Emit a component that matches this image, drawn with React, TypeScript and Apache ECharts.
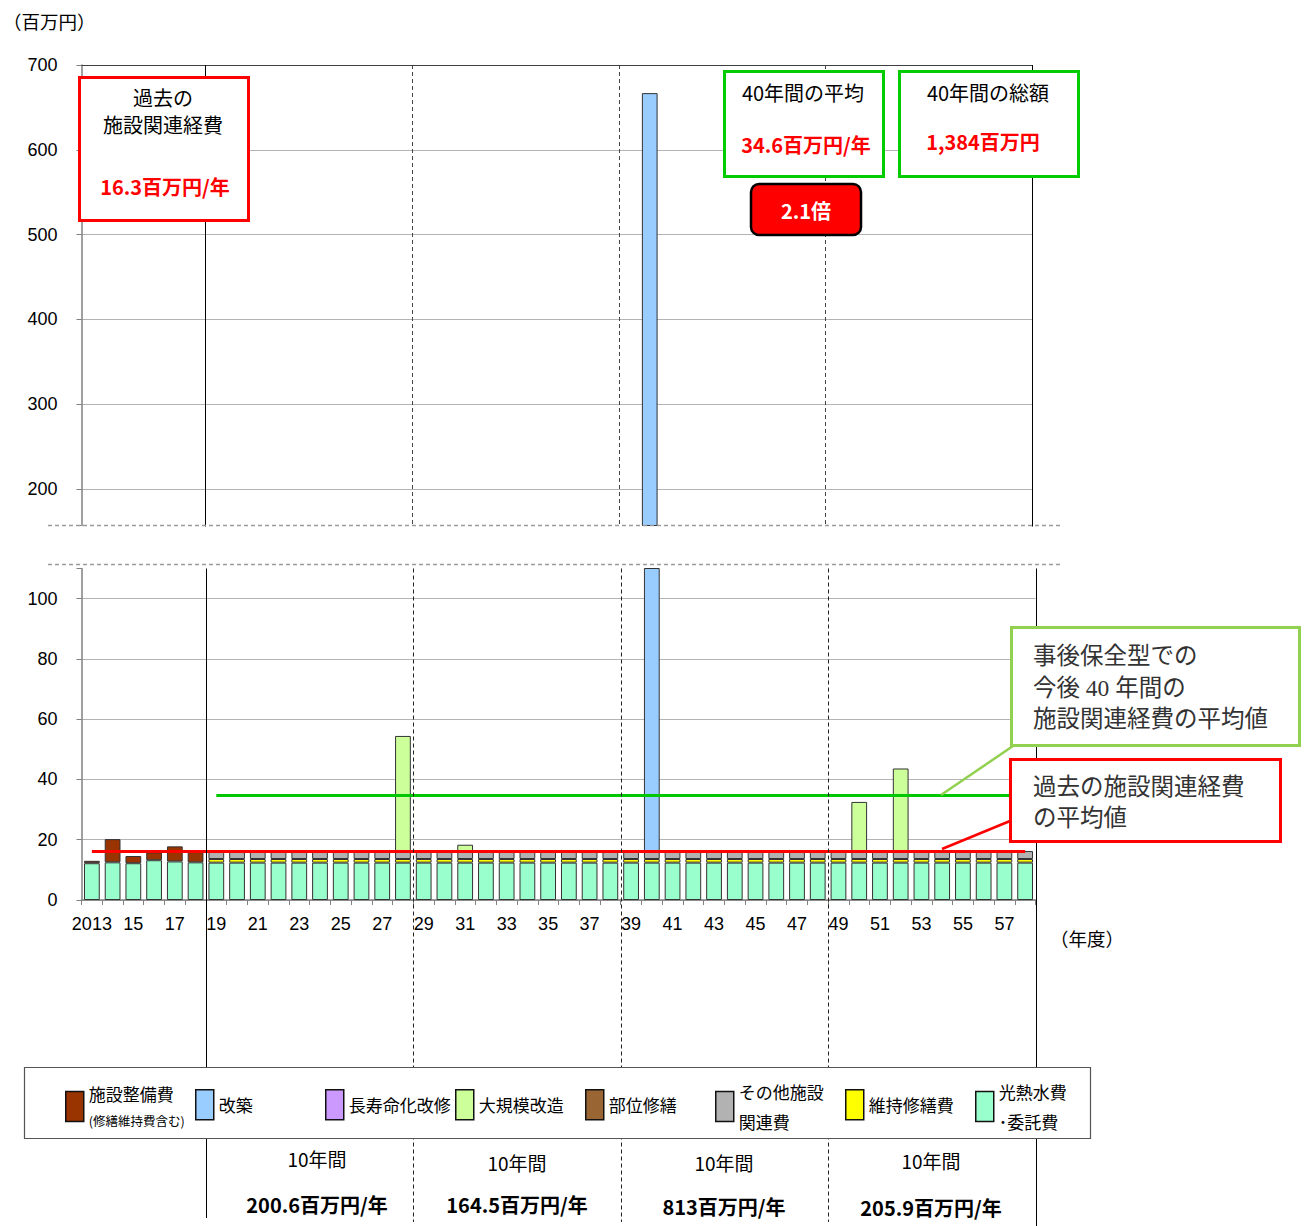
import React, { useEffect, useRef } from "react";
import * as echarts from "echarts";

// ---------- data ----------
const YEARS = [
  "2013", "2014", "2015", "2016", "2017", "2018",
  "2019", "2020", "2021", "2022", "2023", "2024", "2025", "2026", "2027", "2028",
  "2029", "2030", "2031", "2032", "2033", "2034", "2035", "2036", "2037", "2038",
  "2039", "2040", "2041", "2042", "2043", "2044", "2045", "2046", "2047", "2048",
  "2049", "2050", "2051", "2052", "2053", "2054", "2055", "2056", "2057", "2058",
];

// 光熱水費・委託費
const UTILITIES = [
  12.2, 12.5, 12.2, 13.2, 12.8, 12.5,
  12.4, 12.4, 12.4, 12.4, 12.4, 12.4, 12.4, 12.4, 12.4, 12.4,
  12.4, 12.4, 12.4, 12.4, 12.4, 12.4, 12.4, 12.4, 12.4, 12.4,
  12.4, 12.4, 12.4, 12.4, 12.4, 12.4, 12.4, 12.4, 12.4, 12.4,
  12.4, 12.4, 12.4, 12.4, 12.4, 12.4, 12.4, 12.4, 12.4, 12.4,
];
// 維持修繕費
const MAINTENANCE = [
  0, 0, 0, 0, 0, 0,
  1.2, 1.2, 1.2, 1.2, 1.2, 1.2, 1.2, 1.2, 1.2, 1.2,
  1.2, 1.2, 1.2, 1.2, 1.2, 1.2, 1.2, 1.2, 1.2, 1.2,
  1.2, 1.2, 1.2, 1.2, 1.2, 1.2, 1.2, 1.2, 1.2, 1.2,
  1.2, 1.2, 1.2, 1.2, 1.2, 1.2, 1.2, 1.2, 1.2, 1.2,
];
// その他施設関連費
const OTHER = [
  0, 0, 0, 0, 0, 0,
  2.64, 2.64, 2.64, 2.64, 2.64, 2.64, 2.64, 2.64, 2.64, 2.64,
  2.64, 2.64, 2.64, 2.64, 2.64, 2.64, 2.64, 2.64, 2.64, 2.64,
  2.64, 2.64, 2.64, 2.64, 2.64, 2.64, 2.64, 2.64, 2.64, 2.64,
  2.64, 2.64, 2.64, 2.64, 2.64, 2.64, 2.64, 2.64, 2.64, 2.64,
];
// 施設整備費（修繕維持費含む）
const FACILITY = [
  0.8, 7.7, 2.4, 2.6, 5.0, 3.4,
  0, 0, 0, 0, 0, 0, 0, 0, 0, 0,
  0, 0, 0, 0, 0, 0, 0, 0, 0, 0,
  0, 0, 0, 0, 0, 0, 0, 0, 0, 0,
  0, 0, 0, 0, 0, 0, 0, 0, 0, 0,
];
// 部位修繕
const PARTIAL = [
  0, 0, 0, 0, 0, 0,
  0, 0, 0, 0, 0, 0, 0, 0, 0, 0,
  0, 0, 0, 0, 0, 0, 0, 0, 0, 0,
  0, 0, 0, 0, 0, 0, 0, 0, 0, 0,
  0, 0, 0, 0, 0, 0, 0, 0, 0, 0,
];
// 大規模改造
const MAJOR = [
  0, 0, 0, 0, 0, 0,
  0, 0, 0, 0, 0, 0, 0, 0, 0, 38.2,
  0, 0, 2.1, 0, 0, 0, 0, 0, 0, 0,
  0, 0, 0, 0, 0, 0, 0, 0, 0, 0,
  0, 16.3, 0, 27.4, 0, 0, 0, 0, 0, 0,
];
// 長寿命化改修
const LIFE_EXT = [
  0, 0, 0, 0, 0, 0,
  0, 0, 0, 0, 0, 0, 0, 0, 0, 0,
  0, 0, 0, 0, 0, 0, 0, 0, 0, 0,
  0, 0, 0, 0, 0, 0, 0, 0, 0, 0,
  0, 0, 0, 0, 0, 0, 0, 0, 0, 0,
];
// 改築
const REBUILD = [
  0, 0, 0, 0, 0, 0,
  0, 0, 0, 0, 0, 0, 0, 0, 0, 0,
  0, 0, 0, 0, 0, 0, 0, 0, 0, 0,
  0, 650.6, 0, 0, 0, 0, 0, 0, 0, 0,
  0, 0, 0, 0, 0, 0, 0, 0, 0, 0,
];

const PAST_AVG = 16.3;
const FUTURE_AVG = 34.6;

const LOWER_TICKS_MAX = 110;
const UPPER_MIN = 157;
const UPPER_MAX = 700;

const DECADE_BOUNDARIES = [6, 16, 26, 36, 46];
const DECADE_TEXTS = ["200.6百万円/年", "164.5百万円/年", "813百万円/年", "205.9百万円/年"];

// stack order bottom -> top
const SERIES_DEFS = [
  { name: "光熱水費・委託費", data: UTILITIES, color: "#99FFCC" },
  { name: "維持修繕費", data: MAINTENANCE, color: "#FFFF00" },
  { name: "その他施設関連費", data: OTHER, color: "#B2B2B2" },
  { name: "施設整備費", data: FACILITY, color: "#993300" },
  { name: "部位修繕", data: PARTIAL, color: "#996633" },
  { name: "大規模改造", data: MAJOR, color: "#CCFF99" },
  { name: "長寿命化改修", data: LIFE_EXT, color: "#CC99FF" },
  { name: "改築", data: REBUILD, color: "#99CCFF" },
];

const LEGEND_ORDER = [
  "施設整備費", "改築", "長寿命化改修", "大規模改造",
  "部位修繕", "その他施設関連費", "維持修繕費", "光熱水費・委託費",
];

const FONT = '"Noto Sans CJK JP", "Noto Sans", sans-serif';
const NUMFONT = '"Liberation Sans", Arial, sans-serif';

function legendFormatter(name: string) {
  if (name === "施設整備費") return "{a|施設整備費}\n{b|(修繕維持費含む)}";
  if (name === "その他施設関連費") return "{c|その他施設}\n{c|関連費}";
  if (name === "光熱水費・委託費") return "{c|光熱水費}\n{c|･委託費}";
  return "{s|" + name + "}";
}
function legendTop(name: string) {
  if (name === "施設整備費") return 1085;
  if (name === "その他施設関連費" || name === "光熱水費・委託費") return 1083;
  return 1089;
}

function buildOption(): any {
  const series: any[] = [];
  [0, 1].forEach((g) => {
    SERIES_DEFS.forEach((d) => {
      series.push({
        type: "bar",
        name: d.name,
        xAxisIndex: g,
        yAxisIndex: g,
        stack: "s" + g,
        barCategoryGap: "24%",
        data: d.data.map((v) => (v === 0 ? null : v)),
        itemStyle: { color: d.color, borderColor: "#333", borderWidth: 1 },
        emphasis: { disabled: true },
        z: 2,
      });
    });
  });
  series.push({
    type: "line",
    name: "avg",
    xAxisIndex: 1,
    yAxisIndex: 1,
    data: [],
    z: 4,
    markLine: {
      symbol: "none",
      silent: true,
      label: { show: false },
      data: [
        [
          { coord: [YEARS[0], PAST_AVG], lineStyle: { color: "#FF0000", width: 3, type: "solid" } },
          { coord: [YEARS[YEARS.length - 1], PAST_AVG] },
        ],
        [
          { coord: [YEARS[6], FUTURE_AVG], lineStyle: { color: "#00C800", width: 3, type: "solid" } },
          { coord: [YEARS[YEARS.length - 1], FUTURE_AVG] },
        ],
      ],
    },
  });

  const axisLabelStyle = { fontFamily: NUMFONT, fontSize: 18, color: "#000" };

  return {
    animation: false,
    backgroundColor: "#fff",
    grid: [
      { left: 81.5, top: 65, width: 950.5, height: 460.5 },
      { left: 81.5, top: 568.5, width: 954, height: 331.5 },
    ],
    xAxis: [
      {
        type: "category",
        gridIndex: 0,
        data: YEARS,
        position: "top",
        axisLine: { show: true, lineStyle: { color: "#404040", width: 1 } },
        axisTick: { show: false },
        axisLabel: { show: false },
        splitLine: { show: false },
      },
      {
        type: "category",
        gridIndex: 1,
        data: YEARS,
        axisLine: { show: true, lineStyle: { color: "#808080", width: 1.5 } },
        axisTick: { show: true, interval: 0, length: 5, lineStyle: { color: "#808080" } },
        axisLabel: {
          ...axisLabelStyle,
          interval: 1,
          margin: 15,
          formatter: (v: string, i: number) => (i === 0 ? v : v.slice(2)),
        },
        splitLine: { show: false },
      },
    ],
    yAxis: [
      {
        type: "value",
        gridIndex: 0,
        min: UPPER_MIN,
        max: UPPER_MAX,
        splitNumber: 5,
        axisLine: { show: true, lineStyle: { color: "#808080", width: 1.5 } },
        axisTick: { show: true, length: 5, lineStyle: { color: "#808080" } },
        axisLabel: {
          ...axisLabelStyle,
          margin: 24,
          formatter: (v: number) => (v % 100 === 0 ? String(v) : ""),
        },
        splitLine: { show: true, showMinLine: false, lineStyle: { color: "#B4B4B4", width: 1 } },
      },
      {
        type: "value",
        gridIndex: 1,
        min: 0,
        max: LOWER_TICKS_MAX,
        interval: 20,
        axisLine: { show: true, lineStyle: { color: "#808080", width: 1.5 } },
        axisTick: { show: true, length: 5, lineStyle: { color: "#808080" } },
        axisLabel: {
          ...axisLabelStyle,
          margin: 24,
          formatter: (v: number) => (v % 20 === 0 ? String(v) : ""),
        },
        splitLine: { show: true, showMaxLine: false, lineStyle: { color: "#B4B4B4", width: 1 } },
      },
    ],
    legend: LEGEND_ORDER.map((name, i) => ({
      data: [name],
      left: 65 + 130 * i,
      top: legendTop(name),
      orient: "horizontal",
      padding: 0,
      itemGap: 0,
      itemWidth: 18,
      itemHeight: 30,
      icon: "rect",
      selectedMode: false,
      z: 20,
      itemStyle: { borderColor: "#111", borderWidth: 1.5 },
      formatter: legendFormatter,
      textStyle: {
        fontFamily: FONT,
        fontSize: 17,
        color: "#000",
        rich: {
          a: { fontFamily: FONT, fontSize: 17, lineHeight: 28, color: "#000" },
          b: { fontFamily: FONT, fontSize: 12.5, lineHeight: 26, color: "#000" },
          c: { fontFamily: FONT, fontSize: 17, lineHeight: 30, color: "#000" },
          s: { fontFamily: FONT, fontSize: 17, lineHeight: 22, color: "#000" },
        },
      },
    })),
    series,
  };
}

function txt(x: number, y: number, text: string, opts: any = {}) {
  return {
    type: "text",
    x,
    y,
    z: opts.z ?? 12,
    silent: true,
    style: {
      text,
      fill: opts.fill ?? "#000",
      fontFamily: opts.fontFamily ?? FONT,
      fontSize: opts.fontSize ?? 20,
      fontWeight: opts.fontWeight ?? "normal",
      align: opts.align ?? "center",
      verticalAlign: "middle",
      lineHeight: opts.lineHeight,
    },
  };
}
function rect(x: number, y: number, w: number, h: number, stroke: string, lw: number, opts: any = {}) {
  return {
    type: "rect",
    z: opts.z ?? 10,
    silent: true,
    shape: { x, y, width: w, height: h, r: opts.r ?? 0 },
    style: { fill: opts.fill ?? "#fff", stroke, lineWidth: lw },
  };
}
function line(x1: number, y1: number, x2: number, y2: number, stroke: string, lw: number, dash?: number[], z = 6) {
  return {
    type: "line",
    z,
    silent: true,
    shape: { x1, y1, x2, y2 },
    style: { stroke, lineWidth: lw, lineDash: dash },
  };
}

function buildGraphic(chart: any) {
  const els: any[] = [];
  const boundary = (axis: number, i: number) => {
    const c0 = chart.convertToPixel({ xAxisIndex: axis }, 0) as number;
    const c1 = chart.convertToPixel({ xAxisIndex: axis }, 1) as number;
    const step = c1 - c0;
    return Math.round(c0 + (i - 0.5) * step) + 0.5;
  };
  const upperTop = chart.convertToPixel({ yAxisIndex: 0 }, UPPER_MAX) as number;
  const upperBottom = chart.convertToPixel({ yAxisIndex: 0 }, UPPER_MIN) as number;
  const lowerTop = chart.convertToPixel({ yAxisIndex: 1 }, LOWER_TICKS_MAX) as number;
  const lowerBottomEnds = [1218, 1222, 1222, 1222, 1226];

  DECADE_BOUNDARIES.forEach((b, k) => {
    const solid = k === 0 || k === DECADE_BOUNDARIES.length - 1;
    const xu = boundary(0, b);
    els.push(line(xu, upperTop, xu, upperBottom + 1, solid ? "#000" : "#444", 1, solid ? undefined : [4, 3]));
    const xl = boundary(1, b);
    els.push(line(xl, lowerTop, xl, lowerBottomEnds[k], solid ? "#000" : "#222", 1, solid ? undefined : [4, 3]));
  });

  // break marks
  els.push(line(48, 525.5, 1060, 525.5, "#9A9A9A", 1.5, [4, 3], 7));
  els.push(line(48, 564.5, 1060, 564.5, "#9A9A9A", 1.5, [4, 3], 7));

  // decade captions
  const caps = [
    { x: 317, y1: 1158, y2: 1204 },
    { x: 517, y1: 1162, y2: 1204 },
    { x: 724, y1: 1162, y2: 1206 },
    { x: 931, y1: 1160, y2: 1207 },
  ];
  caps.forEach((c, i) => {
    els.push(txt(c.x, c.y1, "10年間", { fontSize: 19 }));
    els.push(txt(c.x, c.y2, DECADE_TEXTS[i], { fontSize: 20, fontWeight: "bold" }));
  });

  // unit labels
  els.push(txt(3, 21, "（百万円）", { fontSize: 18.5, align: "left" }));
  els.push(txt(1050, 938, "（年度）", { fontSize: 18.5, align: "left" }));

  // past expense box
  els.push(rect(79.5, 77.5, 169, 143, "#FF0000", 3));
  els.push(txt(163, 110.5, "過去の\n施設関連経費", { fontSize: 20, lineHeight: 27 }));
  els.push(txt(165, 186, "16.3百万円/年", { fontSize: 20, fontWeight: "bold", fill: "#FF0000" }));

  // 40-year boxes
  els.push(rect(724.5, 71.5, 159, 105, "#00CC00", 3));
  els.push(txt(803, 92, "40年間の平均", { fontSize: 20 }));
  els.push(txt(806, 144, "34.6百万円/年", { fontSize: 20, fontWeight: "bold", fill: "#FF0000" }));
  els.push(rect(899.5, 71.5, 179, 105, "#00CC00", 3));
  els.push(txt(988, 92, "40年間の総額", { fontSize: 20 }));
  els.push(txt(983, 141, "1,384百万円", { fontSize: 20, fontWeight: "bold", fill: "#FF0000" }));

  // 2.1倍
  els.push(rect(751, 184, 110, 51, "#000", 2.5, { fill: "#FF0000", r: 8 }));
  els.push(txt(806, 210, "2.1倍", { fontSize: 20, fontWeight: "bold", fill: "#fff" }));

  // callouts
  els.push(line(1013, 746, 941, 795, "#92D050", 2.5, undefined, 9));
  els.push(line(1010, 821, 942, 849, "#FF0000", 2.5, undefined, 9));
  els.push(rect(1011.5, 627.5, 288, 118, "#92D050", 3));
  els.push(
    txt(1033, 687.5, "事後保全型での\n今後 40 年間の\n施設関連経費の平均値", {
      fontSize: 23.5,
      lineHeight: 31.5,
      align: "left",
      fill: "#333",
      fontFamily: '"Liberation Serif", "Noto Sans CJK JP", serif',
    })
  );
  els.push(rect(1010.5, 759.5, 270, 82, "#FF0000", 3));
  els.push(
    txt(1033, 802.5, "過去の施設関連経費\nの平均値", {
      fontSize: 23.5,
      lineHeight: 31,
      align: "left",
      fill: "#333",
      fontFamily: '"Liberation Serif", "Noto Sans CJK JP", serif',
    })
  );

  // legend frame
  els.push(rect(24.5, 1067.5, 1066, 71, "#555", 1.2, { z: 15 }));

  return els;
}

export default function App() {
  const ref = useRef<HTMLDivElement>(null);
  useEffect(() => {
    if (!ref.current) return;
    const chart = echarts.init(ref.current, null, { renderer: "svg" });
    chart.setOption(buildOption());
    chart.setOption({ graphic: buildGraphic(chart) });
    return () => {
      chart.dispose();
    };
  }, []);
  return (
    <div
      ref={ref}
      style={{ position: "fixed", left: 0, top: 0, width: 1308, height: 1226, background: "#fff" }}
    />
  );
}
